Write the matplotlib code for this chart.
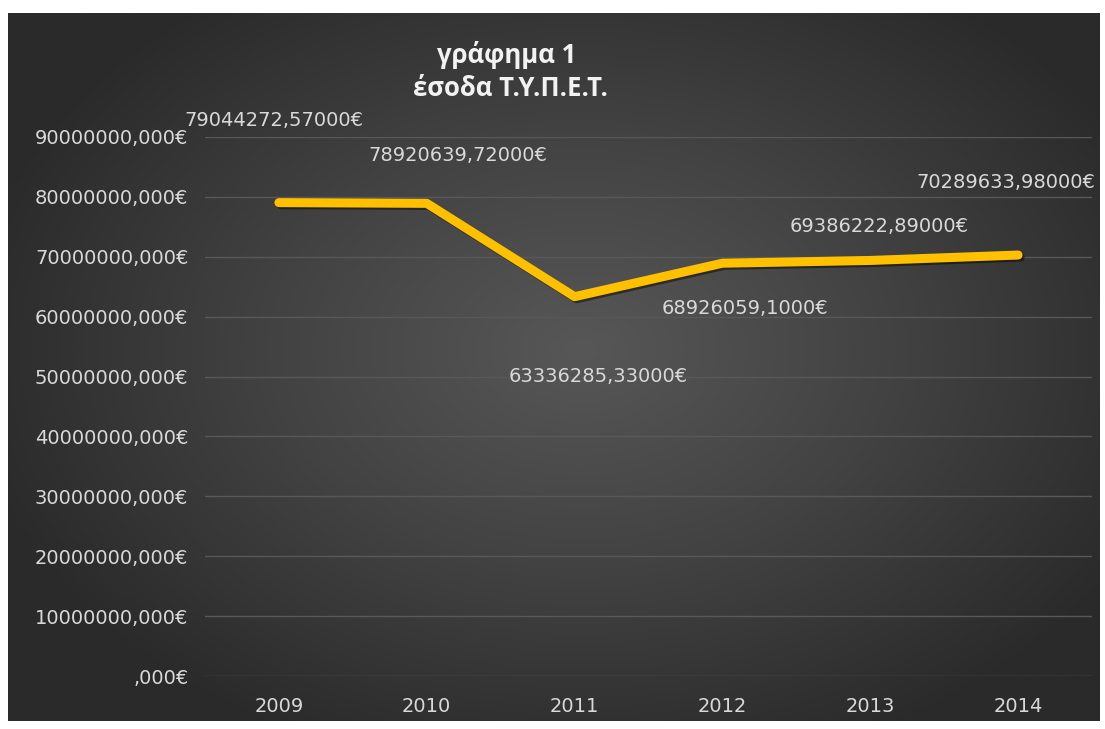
import numpy as np
import matplotlib
matplotlib.use("Agg")
import matplotlib.pyplot as plt
import matplotlib.patheffects as pe
from matplotlib.colors import LinearSegmentedColormap

plt.rcParams['font.family'] = ['Liberation Sans Narrow', 'DejaVu Sans']

years = ['2009', '2010', '2011', '2012', '2013', '2014']
revenue = [79044272.57, 78920639.72, 63336285.33, 68926059.10, 69386222.89, 70289633.98]
labels = ['79044272,57000€', '78920639,72000€', '63336285,33000€',
          '68926059,1000€', '69386222,89000€', '70289633,98000€']
yticks = [0, 10e6, 20e6, 30e6, 40e6, 50e6, 60e6, 70e6, 80e6, 90e6]
ytick_labels = [',000€', '10000000,000€', '20000000,000€', '30000000,000€',
                '40000000,000€', '50000000,000€', '60000000,000€', '70000000,000€',
                '80000000,000€', '90000000,000€']
label_offsets = [(-5, 82), (31, 48), (24, -80), (23, -45), (9, 34), (-12, 73)]

W, H = 1105, 729
fig = plt.figure(figsize=(W / 100, H / 100), dpi=100, facecolor='white')

# background with radial gradient
bx0, by0, bx1, by1 = 8, 13, 1100, 721
bg = fig.add_axes([bx0 / W, 1 - by1 / H, (bx1 - bx0) / W, (by1 - by0) / H])
bg.axis('off')
nx, ny = 400, 260
xx, yy = np.meshgrid(np.linspace(-1, 1, nx), np.linspace(-1, 1, ny))
r = np.sqrt(((xx - 0.05) / 1.15) ** 2 + ((yy + 0.05) / 1.25) ** 2)
r = np.clip(r, 0, 1)
cmap = LinearSegmentedColormap.from_list('bg', ['#575757', '#424242', '#2a2a2a'])
bg.imshow(r, cmap=cmap, aspect='auto', extent=[0, 1, 0, 1], vmin=0, vmax=1)

ax = fig.add_axes([205 / W, 1 - 676 / H, (1092 - 205) / W, (676 - 137) / H])
ax.patch.set_alpha(0)
x = np.arange(len(years))
ax.plot(x, revenue, color='#FFC000', lw=6.5, solid_capstyle='round', solid_joinstyle='round',
        zorder=3,
        path_effects=[pe.SimpleLineShadow(offset=(1.5, -1.5), shadow_color='black', alpha=0.45),
                      pe.Normal()])
ax.set_xlim(-0.5, len(years) - 0.5)
ax.set_ylim(0, 90e6)
ax.set_yticks(yticks)
ax.set_yticklabels(ytick_labels)
ax.set_xticks(x)
ax.set_xticklabels(years)
ax.tick_params(axis='both', length=0, colors='#d9d9d9', labelsize=14)
ax.tick_params(axis='y', pad=12)
ax.tick_params(axis='x', pad=15)
ax.grid(axis='y', color='#585858', lw=1)
ax.set_axisbelow(True)
for s in ax.spines.values():
    s.set_visible(False)

for xi, yi, lab, off in zip(x, revenue, labels, label_offsets):
    ax.annotate(lab, (xi, yi), xytext=off, textcoords='offset pixels',
                ha='center', va='center', color='#d9d9d9', fontsize=14)

fig.text(507 / W, 1 - 55 / H, 'γράφημα 1', ha='center', va='center', color='#f2f2f2',
         fontsize=18.5, fontweight='bold', family=['Open Sans', 'DejaVu Sans'])
fig.text(510 / W, 1 - 88 / H, 'έσοδα Τ.Υ.Π.Ε.Τ.', ha='center', va='center', color='#f2f2f2',
         fontsize=18.5, fontweight='bold', family=['Open Sans', 'DejaVu Sans'])

fig.savefig('out.png', dpi=100, facecolor='white')
